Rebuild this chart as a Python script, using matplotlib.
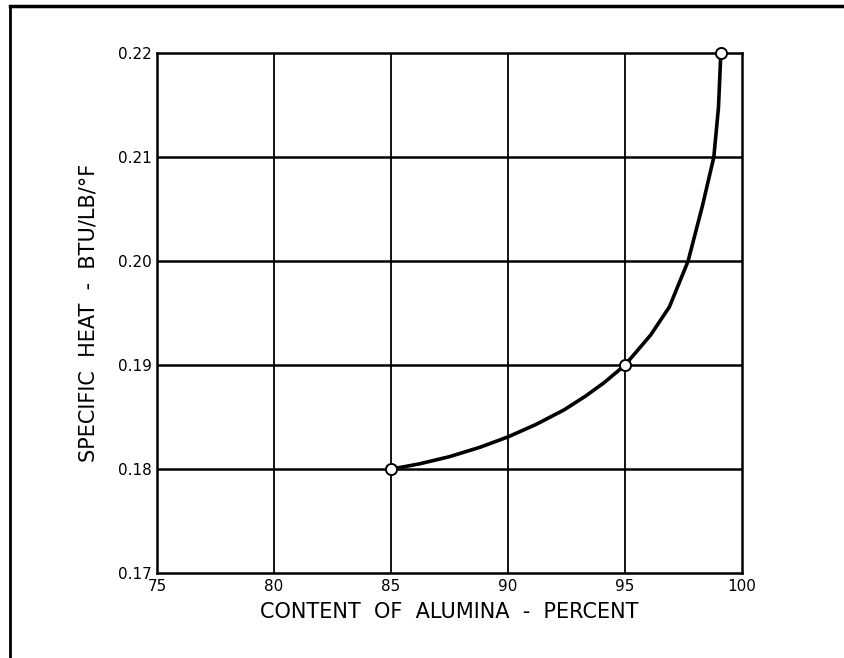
import matplotlib
matplotlib.use('Agg')
import matplotlib.pyplot as plt
from matplotlib.lines import Line2D

# curve
alumina = [85, 86.2, 87.5, 88.8, 90, 91.2, 92.4, 93.3, 94.1, 95, 96.1, 96.9, 97.7, 98.3, 98.8, 99.0, 99.1]
spec_heat = [0.180, 0.1805, 0.1812, 0.1821, 0.1831, 0.1843, 0.1857, 0.1870, 0.1883, 0.190,
             0.1929, 0.1956, 0.200, 0.2052, 0.210, 0.2148, 0.220]

# measured points (open circles)
pt_x = [85, 95, 99.1]
pt_y = [0.180, 0.190, 0.220]

xticks = [75, 80, 85, 90, 95, 100]
yticks = [0.17, 0.18, 0.19, 0.20, 0.21, 0.22]
ytick_labels = ['0.17', '0.18', '0.19', '0.20', '0.21', '0.22']

fig = plt.figure(figsize=(8.44, 6.58), dpi=100)
ax = fig.add_axes([0.186, 0.129, 0.693, 0.790])

ax.set_xlim(75, 100)
ax.set_ylim(0.17, 0.22)
ax.set_xticks(xticks)
ax.set_yticks(yticks)
ax.set_yticklabels(ytick_labels)
ax.tick_params(length=0, labelsize=11, pad=4)

for v in xticks[1:-1]:
    ax.axvline(v, color='black', lw=1.3, zorder=1)
for v in yticks[1:-1]:
    ax.axhline(v, color='black', lw=1.8, zorder=1)
for s in ax.spines.values():
    s.set_linewidth(1.8)

ax.plot(alumina, spec_heat, color='black', lw=2.6, zorder=2)
ax.plot(pt_x, pt_y, 'o', ms=8, mfc='white', mec='black', mew=1.4, zorder=3, clip_on=False)

ax.set_xlabel('CONTENT  OF  ALUMINA  -  PERCENT', fontsize=15, labelpad=6)
ax.set_ylabel('SPECIFIC  HEAT  -  BTU/LB/°F', fontsize=15, labelpad=14)

# page frame (top and left edge)
fig.add_artist(Line2D([10 / 844, 1], [1 - 6 / 658, 1 - 6 / 658], color='black', lw=2.5))
fig.add_artist(Line2D([10 / 844, 10 / 844], [0, 1 - 6 / 658], color='black', lw=2.0))

fig.savefig('out.png', dpi=100, facecolor='white')
